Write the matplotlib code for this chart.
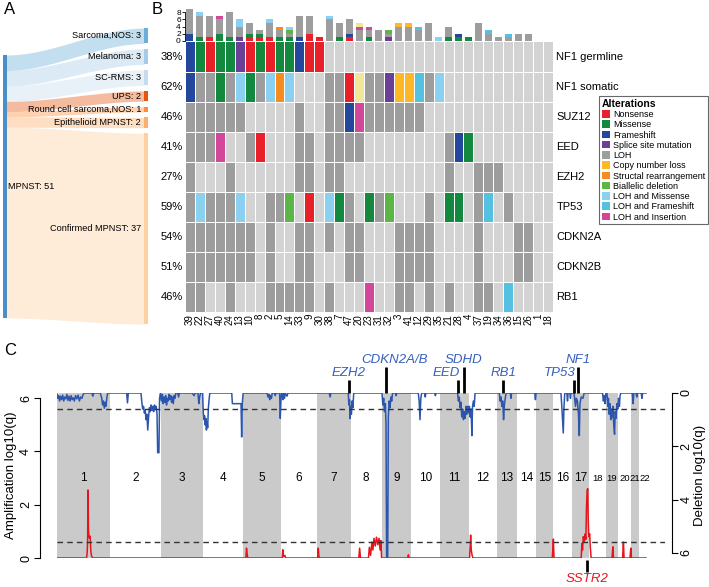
import numpy as np
import matplotlib.pyplot as plt
from matplotlib.colors import ListedColormap
from matplotlib.patches import Patch, Rectangle

plt.rcParams['font.family'] = ['Liberation Sans', 'DejaVu Sans']

# ---------------- A: sankey ----------------
sankey_source = "MPNST"
sankey_targets = ["Sarcoma,NOS", "Melanoma", "SC-RMS", "UPS",
                  "Round cell sarcoma,NOS", "Epithelioid MPNST", "Confirmed MPNST"]
sankey_counts = [3, 3, 3, 2, 1, 2, 37]
sankey_colors = ['#6baed6', '#a6cbe8', '#c6dbef', '#e6550d',
                 '#fd8d3c', '#fdae6b', '#fdd0a2']

# ---------------- B: oncoprint ----------------
samples = ["39", "22", "27", "40", "24", "13", "10", "8", "2", "5", "14", "33", "9",
           "30", "38", "7", "47", "20", "23", "31", "32", "3", "41", "12", "29", "35",
           "21", "28", "4", "37", "19", "34", "36", "15", "26", "1", "18"]
genes = ["NF1 germline", "NF1 somatic", "SUZ12", "EED", "EZH2", "TP53",
         "CDKN2A", "CDKN2B", "RB1"]
# one char per sample: '.' none, codes below
grid_rows = [
    "FMNMMSNMNMMFNN.......................",
    "FLLMLmMLmRm...LLNyLLSCCfLm...........",
    "LLLLLL.....L..LLFiLLLLLL.............",
    "LLLi..LN...LL.LLLL........LFM........",
    "L...L......LL.LL..........L..LLL.....",
    "LmLLLm..LLB.N.mML.MLB...L.MM.Lf.L....",
    "LLLLLLL.L..LL.L.LL...LLLL....L...LL..",
    "LLLLLLL.L..LL...LL...LLLL....L...LL..",
    "LL..L...LLLLL.L...i..LL.L.L..LL.f....",
]
alt_codes = "NMFSLCRBmfiy"
alt_labels = ["Nonsense", "Missense", "Frameshift", "Splice site mutation", "LOH",
              "Copy number loss", "Structal rearrangement", "Biallelic deletion",
              "LOH and Missense", "LOH and Frameshift", "LOH and Insertion", None]
alt_colors = ['#e8202a', '#13893f', '#22479c', '#6a3f98', '#9d9d9d', '#fcb827',
              '#f48c20', '#5cb547', '#8ad0f0', '#55c1e0', '#d3479a', '#f1e79a']
none_color = '#d3d3d3'

# ---------------- C: GISTIC ----------------
chrom_len = [249, 243, 198, 191, 181, 171, 159, 146, 141, 136, 135, 134,
             96, 89, 82, 90, 81, 78, 59, 63, 34, 35]
genome_len = 2881
q_threshold = 0.602

del_pos = [0, 4, 8, 12, 17, 22, 27, 32, 37, 42, 47, 52, 57, 62, 67, 72, 77, 82, 88, 94,
           100, 106, 112, 118, 124, 130, 165, 170, 174, 205, 212, 216, 220, 224, 228,
           232, 236, 240,
           255, 330, 334, 338, 398, 402, 406, 410, 414, 418, 422, 426, 430, 434, 438,
           442, 446, 450, 454, 458, 462, 466, 470, 474, 477, 483, 486, 490,
           495, 499, 503, 507, 511, 515, 519, 523, 527, 531, 535, 539, 543, 547, 551,
           555, 559, 563, 572, 576, 580, 640, 650, 654, 668, 672, 676, 680,
           690, 693, 696, 699, 702, 705, 708, 711, 714, 717, 720, 724, 828, 831, 872,
           875, 878, 882,
           995, 1000, 1004, 1008, 1012, 1016, 1020, 1030, 1034, 1038, 1055, 1058, 1061,
           1064, 1068, 1071, 1074, 1078, 1082, 1090, 1094,
           1290, 1294, 1298, 1380, 1383, 1386, 1389, 1392, 1395, 1398, 1402, 1406,
           1540, 1544, 1548, 1552, 1556, 1559, 1562, 1567, 1570, 1574, 1578, 1582,
           1586, 1590, 1604, 1607, 1610,
           1712, 1716, 1720, 1724, 1728, 1742, 1745, 1748, 1790, 1793, 1796,
           1898, 1902, 1906, 1910, 1914, 1918, 1922, 1926, 1930, 1934, 1938, 1942,
           1946, 1950, 1954, 1958, 1962, 1966, 1969, 1973, 1977, 1981,
           2096, 2100, 2104, 2108, 2112, 2116, 2120, 2124, 2128, 2148, 2151, 2154,
           2264, 2267, 2270,
           2388, 2392, 2396, 2399, 2402, 2406, 2416, 2419, 2422, 2430, 2433, 2436,
           2450, 2454, 2457, 2461, 2466, 2471, 2475, 2478, 2484, 2492, 2498,
           2585, 2589, 2593, 2597, 2601, 2606, 2610, 2613, 2617, 2620, 2624, 2627,
           2631, 2634, 2638, 2642, 2645, 2649, 2653, 2657, 2661, 2665, 2668, 2672,
           2726, 2730, 2733, 2744, 2747, 2750, 2768, 2772, 2775, 2791]
del_q = [0.05, 0.2, 0.1, 0.3, 0.12, 0.25, 0.08, 0.3, 0.15, 0.22, 0.05, 0.28, 0.12, 0.3,
         0.1, 0.25, 0.18, 0.3, 0.1, 0.22, 0.08, 0.3, 0.15, 0.2, 0.05, 0.0, 0.0, 0.12, 0.0,
         0.0, 0.2, 0.45, 0.3, 0.57, 0.35, 0.5, 0.2, 0.0,
         0.0, 0.0, 0.37, 0.0, 0.0, 0.35, 0.6, 0.5, 0.75, 0.65, 1.0, 0.8, 1.39, 0.9, 0.55,
         0.7, 0.45, 0.65, 0.5, 0.7, 0.45, 0.6, 0.5, 0.8, 2.24, 2.24, 0.2, 0.0,
         0.3, 0.05, 0.4, 0.15, 0.35, 0.1, 0.45, 0.2, 0.3, 0.05, 0.25, 0.1, 0.35, 0.15, 0.4,
         0.1, 0.2, 0.0, 0.0, 0.15, 0.0, 0.0, 0.1, 0.0, 0.0, 0.4, 0.15, 0.0,
         0.0, 0.7, 1.0, 0.85, 1.2, 0.95, 1.39, 1.1, 1.3, 0.6, 0.3, 0.0, 0.0, 0.4, 0.4,
         1.65, 0.4, 0.0,
         0.0, 0.15, 0.05, 0.25, 0.1, 0.2, 0.0, 0.0, 0.1, 0.0, 0.0, 0.95, 0.3,
         0.0, 0.0, 0.25, 0.0, 0.2, 0.0, 0.12, 0.0,
         0.0, 0.15, 0.0, 0.0, 0.45, 0.25, 0.96, 0.5, 0.8, 0.3, 0.55, 0.0,
         0.0, 0.45, 0.2, 0.7, 0.4, 1.2, 6.3, 6.3, 0.9, 0.3, 0.55, 0.15,
         0.3, 0.0, 0.0, 0.1, 0.0,
         0.0, 0.3, 1.0, 0.2, 0.0, 0.0, 0.15, 0.0, 0.0, 0.1, 0.0,
         0.0, 0.3, 0.15, 0.55, 0.35, 0.9, 0.6, 1.0, 0.7, 0.95, 0.5, 0.8,
         0.5, 0.75, 0.5, 0.9, 0.6, 1.6, 0.5, 0.3, 0.5, 0.0,
         0.0, 0.3, 0.15, 0.5, 0.3, 1.0, 0.45, 0.2, 0.0, 0.0, 0.2, 0.0,
         0.0, 0.25, 0.0,
         0.0, 0.5, 1.1, 1.5, 0.6, 0.0, 0.0, 0.3, 0.0, 0.0, 0.2, 0.0,
         0.0, 0.3, 0.5, 0.2, 0.3, 0.8, 1.6, 0.4, 0.15, 0.2, 0.0,
         0.0, 0.3, 0.1, 0.4, 0.0, 0.0, 0.5, 0.2, 0.8, 0.4, 1.0, 0.6,
         0.9, 0.5, 1.2, 1.55, 0.7, 0.95, 0.4, 0.6, 0.2, 0.5, 0.1, 0.0,
         0.0, 0.4, 0.0, 0.0, 0.15, 0.0, 0.0, 0.2, 0.0, 0.0]

amp_pos = [0, 140, 143, 145, 147, 149, 151, 154, 157, 160, 163, 168,
           895, 898, 901, 904, 1067, 1070, 1073, 1080, 1083, 1235, 1238, 1241, 1245,
           1430, 1434, 1438, 1476, 1480, 1486, 1492, 1497, 1502, 1508, 1514, 1520,
           1526, 1531, 1535, 1538,
           1662, 1665, 1668, 1955, 1958, 1960, 1963, 1967, 1971,
           2347, 2350, 2352, 2355,
           2484, 2487, 2490, 2494, 2498, 2502, 2506, 2509, 2512, 2515, 2517, 2520,
           2524, 2527, 2531, 2630, 2634, 2637, 2680, 2684, 2687, 2715, 2719, 2722, 2791]
amp_q = [0.0, 0.0, 0.2, 0.65, 2.55, 1.1, 0.8, 0.75, 0.82, 0.3, 0.1, 0.0,
         0.0, 0.37, 0.15, 0.0, 0.0, 0.31, 0.05, 0.1, 0.0, 0.0, 0.37, 0.05, 0.0,
         0.0, 0.37, 0.0, 0.0, 0.4, 0.1, 0.6, 0.3, 0.74, 0.45, 0.78, 0.5,
         0.74, 0.3, 0.65, 0.0,
         0.0, 0.12, 0.0, 0.0, 0.5, 0.86, 0.3, 0.1, 0.0,
         0.0, 0.4, 0.71, 0.0,
         0.0, 0.55, 0.3, 0.8, 0.6, 0.9, 0.7, 1.9, 2.55, 2.6, 1.5, 0.8,
         0.9, 0.4, 0.0, 0.0, 0.42, 0.0, 0.0, 0.6, 0.0, 0.0, 0.37, 0.0, 0.0]

del_genes = ["EZH2", "CDKN2A/B", "EED", "SDHD", "RB1", "TP53", "NF1"]
del_gene_chrom = [7, 9, 11, 11, 13, 17, 17]
del_gene_pos = [148.5, 22.0, 86.0, 112.0, 30.0, 7.6, 29.4]
amp_genes = ["SSTR2"]
amp_gene_chrom = [17]
amp_gene_pos = [71.1]

W, H = 709, 587
fig = plt.figure(figsize=(W / 100, H / 100), dpi=100)


def px_axes(x0, y0, x1, y1):
    # box in pixels, origin top-left
    return fig.add_axes([x0 / W, 1 - y1 / H, (x1 - x0) / W, (y1 - y0) / H])


# panel letters
fig.text(4 / W, 1 - 2 / H, "A", fontsize=12, va='top')
fig.text(152 / W, 1 - 2 / H, "B", fontsize=12, va='top')
fig.text(4 / W, 1 - 343 / H, "C", fontsize=12, va='top')

# ================= A =================
axA = px_axes(0, 0, 155, 330)
axA.set_xlim(0, 155)
axA.set_ylim(330, 0)
axA.axis('off')

total = sum(sankey_counts)
unit = 263 / total
gap = 5.5
lx0, lx1 = 3, 6.5
rx0, rx1 = 144, 148
axA.add_patch(Rectangle((lx0, 55), lx1 - lx0, total * unit, color='#4a8fc7', lw=0))
axA.text(8, 55 + total * unit / 2, f"{sankey_source}: {total}", ha='left',
         va='center', fontsize=6.6)

xs = np.linspace(lx1, rx0, 150)
t = (xs - lx1) / (rx0 - lx1)
s = t * t * (3 - 2 * t)
cum = 0
for i, (name, n, col) in enumerate(zip(sankey_targets, sankey_counts, sankey_colors)):
    lt = 55 + cum * unit
    lb = lt + n * unit
    rt = 28 + cum * unit + i * gap
    rb = rt + n * unit
    axA.fill_between(xs, lt + (rt - lt) * s, lb + (rb - lb) * s, color=col,
                     alpha=0.4, lw=0)
    axA.add_patch(Rectangle((rx0, rt), rx1 - rx0, rb - rt, color=col, lw=0))
    axA.text(rx0 - 3, (rt + rb) / 2, f"{name}: {n}", ha='right', va='center',
             fontsize=6.6)
    cum += n

# ================= B =================
nrow, ncol = len(genes), len(samples)
mat = np.array([[0 if ch == '.' else alt_codes.index(ch) + 1 for ch in row]
                for row in grid_rows])
cmap = ListedColormap([none_color] + alt_colors)

axG = px_axes(185, 41.5, 553, 312)
axG.pcolormesh(np.arange(ncol + 1), np.arange(nrow + 1), mat, cmap=cmap,
               vmin=-0.5, vmax=len(alt_codes) + 0.5, edgecolors='white',
               linewidth=0.6)
axG.set_xlim(0, ncol)
axG.set_ylim(nrow, 0)
axG.axis('off')
for r, g in enumerate(genes):
    pct = round(100 * np.count_nonzero(mat[r]) / ncol)
    axG.text(-0.25, r + 0.5, f"{pct}%", ha='right', va='center', fontsize=8)
    axG.text(ncol + 0.35, r + 0.5, g, ha='left', va='center', fontsize=8)
for c, smp in enumerate(samples):
    axG.text(c + 0.5, nrow + 0.06, smp, rotation=90, ha='center', va='top',
             fontsize=7)

axT = px_axes(185, 12.3, 553, 40.7)
bottom = np.zeros(ncol)
for j, col in enumerate(alt_colors):
    h = (mat == j + 1).sum(axis=0)
    axT.bar(np.arange(ncol) + 0.5, h, width=0.7, bottom=bottom, color=col,
            lw=0, clip_on=False)
    bottom += h
axT.set_xlim(0, ncol)
axT.set_ylim(0, 8)
axT.set_yticks([0, 2, 4, 6, 8])
axT.tick_params(axis='y', labelsize=6, length=2, pad=1, width=0.6)
axT.set_xticks([])
for sp in ['top', 'right', 'bottom']:
    axT.spines[sp].set_visible(False)
axT.spines['left'].set_linewidth(0.6)
axT.patch.set_alpha(0)

handles = [Patch(facecolor=c, edgecolor='none') for c, lab in
           zip(alt_colors, alt_labels) if lab]
labels = [lab for lab in alt_labels if lab]
leg = fig.legend(handles, labels, loc='upper left',
                 bbox_to_anchor=(599 / W, 1 - 96 / H), title="Alterations",
                 title_fontproperties={'weight': 'bold', 'size': 7.5},
                 fontsize=6.5, frameon=True, fancybox=False, edgecolor='#444444',
                 handlelength=0.9, handleheight=0.9, handletextpad=0.4,
                 labelspacing=0.14, borderpad=0.3, borderaxespad=0,
                 alignment='left')
leg.get_frame().set_linewidth(0.8)

# ================= C =================
starts = np.concatenate([[0], np.cumsum(chrom_len)[:-1]])
axC = px_axes(57, 393, 665, 558)
axC.set_xlim(0, genome_len)
axC.set_ylim(0, 6.19)
for i, (st, ln) in enumerate(zip(starts, chrom_len)):
    if i % 2 == 0:
        axC.axvspan(st, st + ln, color='#cacaca', lw=0)
    # last label sits a little to the right, as in the original
    nudge = 12 if i == len(chrom_len) - 1 else 0
    axC.text(st + ln / 2 + nudge, 3.0, str(i + 1), ha='center', va='center',
             fontsize=8.5 if i < 17 else 6.8)
axC.plot(amp_pos, amp_q, color='#e8141c', lw=1.1)
axC.hlines(q_threshold, 0, genome_len, colors='#333333', linestyles=(0, (4, 3)),
           lw=1)
axC.set_yticks([0, 2, 4, 6])
axC.set_ylabel("Amplification log10(q)", fontsize=9.5, labelpad=2)
axC.set_xticks([])

ax2 = axC.twinx()
ax2.set_ylim(6.19, 0)
ax2.plot(del_pos, del_q, color='#2c56ad', lw=1.1)
ax2.hlines(q_threshold, 0, genome_len, colors='#333333', linestyles=(0, (4, 3)),
           lw=1)
ax2.set_yticks([0, 2, 4, 6])
ax2.set_ylabel("Deletion log10(q)", fontsize=9.5, labelpad=1)

for a, side, off in [(axC, 'left', 12), (ax2, 'right', 5)]:
    for sp in ['top', 'bottom', 'left', 'right']:
        a.spines[sp].set_visible(sp == side)
    a.spines[side].set_position(('outward', off))
    a.spines[side].set_bounds(0, 6)
    a.tick_params(axis='y', labelsize=9, length=4, pad=2, labelrotation=90)
for lab in axC.get_yticklabels() + ax2.get_yticklabels():
    lab.set_verticalalignment('center')

# gene flags
tall = {"CDKN2A/B", "SDHD", "NF1"}
halign = {"EED": 'right', "TP53": 'right'}
for g, ch, pos in zip(del_genes, del_gene_chrom, del_gene_pos):
    x = starts[ch - 1] + pos
    top = -0.97 if g in tall else -0.49
    ax2.plot([x, x], [0, top], color='black', lw=2, clip_on=False,
             solid_capstyle='butt')
    ha = halign.get(g, 'center')
    tx = x + 8 if ha == 'right' else x
    if g == "CDKN2A/B":
        tx = x + 38
    ax2.text(tx, top - 0.05, g, ha=ha, va='bottom', fontsize=9.5,
             style='italic', color='#3560bd', clip_on=False)
for g, ch, pos in zip(amp_genes, amp_gene_chrom, amp_gene_pos):
    x = starts[ch - 1] + pos
    axC.plot([x, x], [-0.07, -0.52], color='black', lw=2, clip_on=False,
             solid_capstyle='butt')
    axC.text(x, -0.55, g, ha='center', va='top', fontsize=9.5, style='italic',
             color='#e8141c', clip_on=False)

fig.savefig("out.png", dpi=100)
